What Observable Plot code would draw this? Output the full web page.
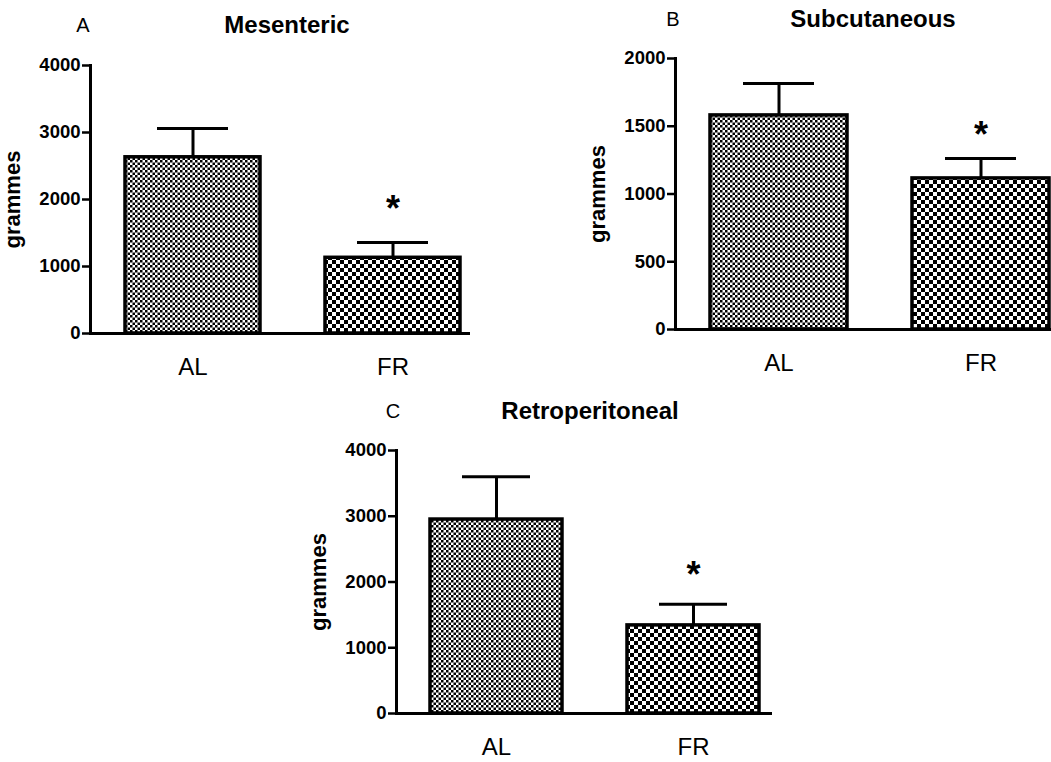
<!DOCTYPE html>
<html>
<head>
<meta charset="utf-8">
<script src="https://cdn.jsdelivr.net/npm/d3@7"></script>
<script src="https://cdn.jsdelivr.net/npm/@observablehq/plot@0.6"></script>
<style>
  html, body { margin: 0; padding: 0; background: #fff; }
  #root { position: relative; width: 1051px; height: 762px; overflow: hidden; background: #fff;
          font-family: "Liberation Sans", Arial, Helvetica, sans-serif; color: #000; }
  .panel { position: absolute; }
  .txt { position: absolute; white-space: nowrap; transform: translate(-50%, -50%); line-height: 1; }
  .title { font-weight: bold; font-size: 24px; }
  .letter { font-size: 20px; }
</style>
</head>
<body>
<svg width="0" height="0" style="position:absolute">
  <defs>
    <pattern id="fineCheck" width="5" height="5" patternUnits="userSpaceOnUse">
      <rect width="5" height="5" fill="#fff"/>
      <rect width="2.5" height="2.5" fill="#000"/>
      <rect x="2.5" y="2.5" width="2.5" height="2.5" fill="#000"/>
    </pattern>
    <pattern id="coarseCheck" width="8" height="8" patternUnits="userSpaceOnUse">
      <rect width="8" height="8" fill="#fff"/>
      <rect width="4" height="4" fill="#000"/>
      <rect x="4" y="4" width="4" height="4" fill="#000"/>
    </pattern>
  </defs>
</svg>
<div id="root"></div>
<script>
// ---- data ----
const groups = ["AL", "FR"];
const panelLetters = ["A", "B", "C"];
const panelTitles = ["Mesenteric", "Subcutaneous", "Retroperitoneal"];
const meanMesenteric = [2630, 1130];
const semMesenteric = [430, 230];
const meanSubcutaneous = [1580, 1115];
const semSubcutaneous = [235, 147];
const meanRetroperitoneal = [2950, 1340];
const semRetroperitoneal = [650, 320];
const significant = [false, true];
const yTicksA = [0, 1000, 2000, 3000, 4000];
const yTicksB = [0, 500, 1000, 1500, 2000];
const yTicksC = [0, 1000, 2000, 3000, 4000];
const yLabel = "grammes";

const patterns = {AL: "url(#fineCheck)", FR: "url(#coarseCheck)"};
const FONT = "Liberation Sans, Arial, Helvetica, sans-serif";

function rows(means, sems) {
  return groups.map((g, i) => ({group: g, mean: means[i], top: means[i] + sems[i], sig: significant[i]}));
}

function panel(cfg) {
  const data = rows(cfg.means, cfg.sems);
  const plot = Plot.plot({
    width: cfg.width,
    height: cfg.height,
    marginLeft: 90,
    marginRight: cfg.marginRight,
    marginTop: cfg.marginTop,
    marginBottom: cfg.marginBottom,
    style: {fontFamily: FONT, background: "transparent", overflow: "visible"},
    x: {domain: groups, paddingInner: cfg.pInner, paddingOuter: cfg.pOuter, align: cfg.align},
    y: {domain: [cfg.ticks[0], cfg.ticks[cfg.ticks.length - 1]]},
    marks: [
      Plot.barY(data, {x: "group", y: "mean", fill: d => patterns[d.group], stroke: "#000", strokeWidth: 3.5}),
      Plot.ruleX(data, {x: "group", y1: "mean", y2: "top", stroke: "#000", strokeWidth: 3}),
      Plot.tickY(data, {x: "group", y: "top", stroke: "#000", strokeWidth: 3, inset: cfg.capInset}),
      Plot.text(data.filter(d => d.sig), {x: "group", y: "top", text: () => "*", dy: cfg.starDy,
        fontSize: 36, fontWeight: "bold", fill: "#000"}),
      Plot.ruleY([cfg.ticks[0]], {stroke: "#000", strokeWidth: 3}),
      Plot.axisY({ticks: cfg.ticks, tickSize: 8, tickPadding: 2, fontSize: 18.5, fontWeight: "bold",
        stroke: "#000", strokeWidth: 2.5, tickFormat: d => String(d),
        label: yLabel, labelAnchor: "center", labelArrow: "none", labelOffset: 86}),
      Plot.frame({anchor: "left", stroke: "#000", strokeWidth: 3}),
      Plot.axisX({tickSize: 0, tickPadding: 24, fontSize: 24, label: null})
    ]
  });
  // style y-axis label
  plot.querySelectorAll("g[aria-label='y-axis label'] text").forEach(t => {
    t.setAttribute("font-size", "22");
    t.setAttribute("font-weight", "bold");
  });
  plot.classList.add("panel");
  plot.style.left = cfg.left + "px";
  plot.style.top = cfg.top + "px";
  plot.style.position = "absolute";
  return plot;
}

const root = document.getElementById("root");
const cfgs = [
  {left: 0, top: 0, width: 480, height: 380, marginTop: 65, marginBottom: 47, marginRight: 10,
   means: meanMesenteric, sems: semMesenteric, ticks: yTicksA,
   pInner: 0.327, pOuter: 0.111, align: 0.76, capInset: 32, starDy: -33,
   letter: [83, 25], title: [287, 25]},
  {left: 585, top: 0, width: 466, height: 380, marginTop: 58, marginBottom: 51, marginRight: 0,
   means: meanSubcutaneous, sems: semSubcutaneous, ticks: yTicksB,
   pInner: 0.323, pOuter: 0.09, align: 0.93, capInset: 33, starDy: -23,
   letter: [673, 19], title: [873, 19]},
  {left: 306, top: 385, width: 466, height: 377, marginTop: 65, marginBottom: 49, marginRight: 0,
   means: meanRetroperitoneal, sems: semRetroperitoneal, ticks: yTicksC,
   pInner: 0.328, pOuter: 0.1135, align: 0.73, capInset: 32, starDy: -29,
   letter: [393, 411], title: [590, 411]}
];

cfgs.forEach((cfg, i) => {
  root.appendChild(panel(cfg));
  const l = document.createElement("div");
  l.className = "txt letter";
  l.textContent = panelLetters[i];
  l.style.left = cfg.letter[0] + "px";
  l.style.top = cfg.letter[1] + "px";
  root.appendChild(l);
  const t = document.createElement("div");
  t.className = "txt title";
  t.textContent = panelTitles[i];
  t.style.left = cfg.title[0] + "px";
  t.style.top = cfg.title[1] + "px";
  root.appendChild(t);
});
</script>
</body>
</html>
